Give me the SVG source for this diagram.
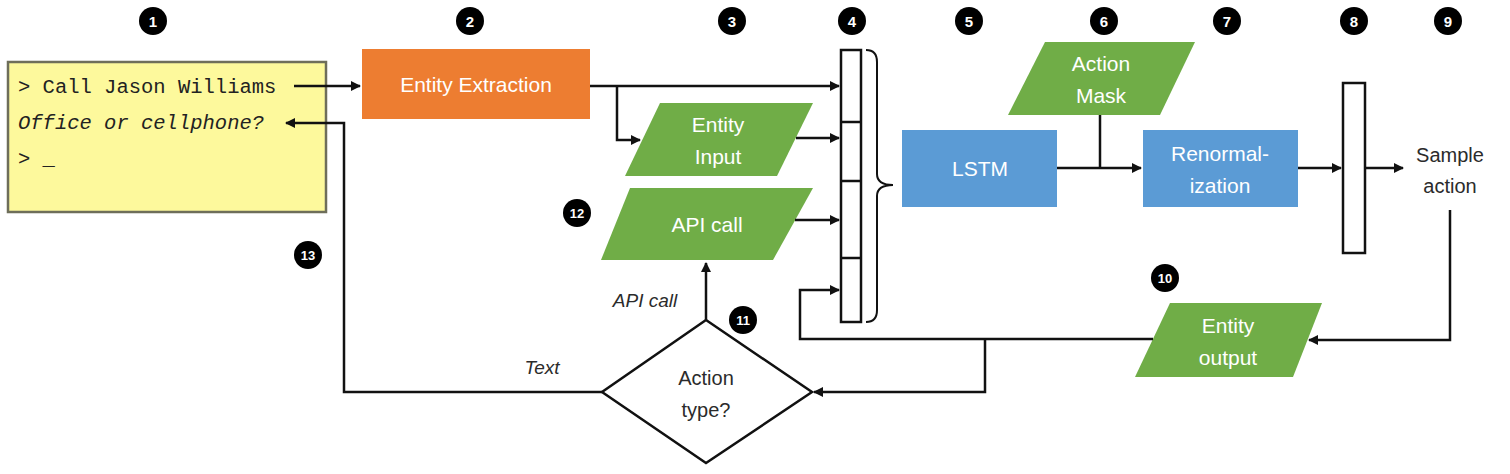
<svg xmlns="http://www.w3.org/2000/svg" width="1510" height="474" viewBox="0 0 1510 474">
<defs>
<marker id="ah" viewBox="0 0 10 10" refX="9" refY="5" markerWidth="10" markerHeight="10" markerUnits="userSpaceOnUse" orient="auto">
<path d="M0,0 L10,5 L0,10 Z" fill="#111"/>
</marker>
<style>
.ln{fill:none;stroke:#111;stroke-width:2.5}
.green{fill:#70AD47}
.blue{fill:#5B9BD5}
.wt{font-family:"Liberation Sans",Arial,sans-serif;font-size:21px;fill:#fff;text-anchor:middle}
.dk{font-family:"Liberation Sans",Arial,sans-serif;font-size:20px;fill:#2b2b2b;text-anchor:middle}
.it{font-family:"Liberation Sans",Arial,sans-serif;font-size:19px;font-style:italic;fill:#2b2b2b;text-anchor:middle}
.mono{font-family:"Liberation Mono","DejaVu Sans Mono",monospace;font-size:20.5px;fill:#222}
.num circle{fill:#000}
.num text{font-family:"Liberation Sans",Arial,sans-serif;font-size:15px;font-weight:bold;fill:#fff;text-anchor:middle}
.vec{fill:#fff;stroke:#111;stroke-width:2.5}
</style>
</defs>
<rect width="1510" height="474" fill="#fff"/>

<g id="terminal">
<rect x="8" y="62" width="318" height="150" fill="#FDF99C" stroke="#6e6e5a" stroke-width="2.5"/>
<text class="mono" x="18" y="93">&gt; Call Jason Williams</text>
<text class="mono" x="18" y="129" font-style="italic">Office or cellphone?</text>
<text class="mono" x="18" y="165">&gt; _</text>
</g>

<g id="entity-extraction">
<rect x="362" y="49" width="228" height="70" fill="#ED7D31"/>
<text class="wt" x="476" y="92">Entity Extraction</text>
</g>

<g id="entity-input">
<path class="green" d="M660,103 L813,103 L777,176 L625,176 Z"/>
<text class="wt" x="718" y="132">Entity</text>
<text class="wt" x="718" y="164">Input</text>
</g>

<g id="api-call">
<path class="green" d="M630,188 L813,188 L773,260 L601,260 Z"/>
<text class="wt" x="707" y="232">API call</text>
</g>

<g id="feature-vector">
<rect class="vec" x="841" y="50" width="20" height="272"/>
<path class="ln" d="M841,122 H861 M841,181 H861 M841,258 H861"/>
<path fill="none" stroke="#111" stroke-width="2" d="M866,50 Q877,50 877,62 L877,174 Q877,185 893,185 Q877,185 877,196 L877,310 Q877,322 866,322"/>
</g>

<g id="lstm">
<rect class="blue" x="902" y="130" width="155" height="77"/>
<text class="wt" x="980" y="176">LSTM</text>
</g>

<g id="action-mask">
<path class="green" d="M1045,42 L1195,42 L1160,115 L1008,115 Z"/>
<text class="wt" x="1101" y="71">Action</text>
<text class="wt" x="1101" y="103">Mask</text>
</g>

<g id="renormalization">
<rect class="blue" x="1143" y="130" width="155" height="77"/>
<text class="wt" x="1220" y="161">Renormal-</text>
<text class="wt" x="1220" y="193">ization</text>
</g>

<g id="output-vector">
<rect class="vec" x="1343" y="83" width="22" height="170"/>
</g>

<g id="sample-action">
<text class="dk" x="1450" y="162">Sample</text>
<text class="dk" x="1450" y="193">action</text>
</g>

<g id="entity-output">
<path class="green" d="M1170,303 L1322,303 L1293,377 L1135,377 Z"/>
<text class="wt" x="1228" y="333">Entity</text>
<text class="wt" x="1228" y="365">output</text>
</g>

<g id="action-type">
<path d="M706,320 L812,392 L706,463 L602,392 Z" fill="#fff" stroke="#111" stroke-width="2.5"/>
<text class="dk" x="706" y="385">Action</text>
<text class="dk" x="706" y="417">type?</text>
</g>

<g id="connectors">
<path class="ln" d="M294,86 L360,86" marker-end="url(#ah)"/>
<path class="ln" d="M602,392 L344,392 L344,123 L286,123" marker-end="url(#ah)"/>
<path class="ln" d="M590,86 L839,86" marker-end="url(#ah)"/>
<path class="ln" d="M617,86 L617,140 L640,140" marker-end="url(#ah)"/>
<path class="ln" d="M796,138 L839,138" marker-end="url(#ah)"/>
<path class="ln" d="M795,220 L839,220" marker-end="url(#ah)"/>
<path class="ln" d="M1153,339 L800,339 L800,290 L839,290" marker-end="url(#ah)"/>
<path class="ln" d="M985,339 L985,392 L814,392" marker-end="url(#ah)"/>
<path class="ln" d="M706,320 L706,263" marker-end="url(#ah)"/>
<path class="ln" d="M1057,168 L1141,168" marker-end="url(#ah)"/>
<path class="ln" d="M1100,115 L1100,168"/>
<path class="ln" d="M1298,168 L1341,168" marker-end="url(#ah)"/>
<path class="ln" d="M1365,168 L1403,168" marker-end="url(#ah)"/>
<path class="ln" d="M1450,210 L1450,340 L1309,340" marker-end="url(#ah)"/>
<text class="it" x="542" y="374">Text</text>
<text class="it" x="645" y="307">API call</text>
</g>

<g id="markers" class="num">
<g id="n1"><circle cx="153" cy="21" r="14"/><text x="153" y="26.5">1</text></g>
<g id="n2"><circle cx="470" cy="21" r="14"/><text x="470" y="26.5">2</text></g>
<g id="n3"><circle cx="732" cy="21" r="14"/><text x="732" y="26.5">3</text></g>
<g id="n4"><circle cx="852" cy="21" r="14"/><text x="852" y="26.5">4</text></g>
<g id="n5"><circle cx="969" cy="21" r="14"/><text x="969" y="26.5">5</text></g>
<g id="n6"><circle cx="1104" cy="21" r="14"/><text x="1104" y="26.5">6</text></g>
<g id="n7"><circle cx="1227" cy="21" r="14"/><text x="1227" y="26.5">7</text></g>
<g id="n8"><circle cx="1354" cy="21" r="14"/><text x="1354" y="26.5">8</text></g>
<g id="n9"><circle cx="1448" cy="21" r="14"/><text x="1448" y="26.5">9</text></g>
<g id="n10"><circle cx="1165" cy="278" r="14"/><text x="1165" y="283" style="font-size:13px">10</text></g>
<g id="n11"><circle cx="743" cy="320" r="14"/><text x="743" y="325" style="font-size:13px">11</text></g>
<g id="n12"><circle cx="577" cy="213" r="14"/><text x="577" y="218" style="font-size:13px">12</text></g>
<g id="n13"><circle cx="308" cy="255" r="14"/><text x="308" y="260" style="font-size:13px">13</text></g>
</g>
</svg>
